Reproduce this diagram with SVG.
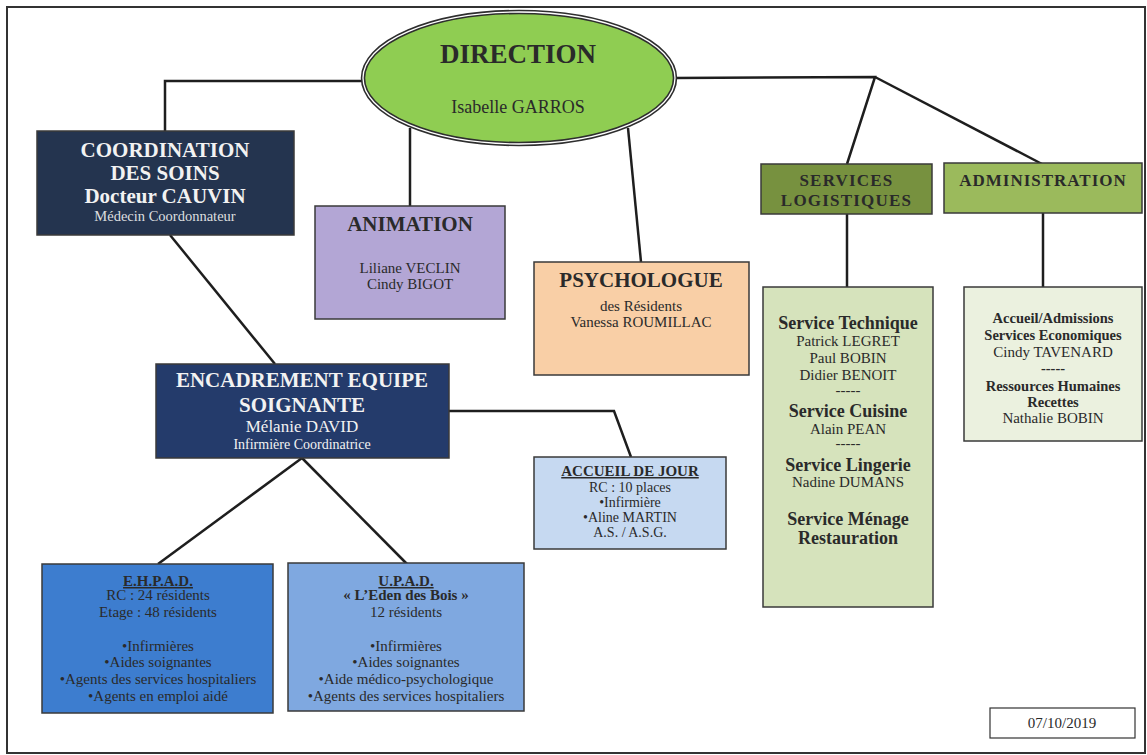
<svg xmlns="http://www.w3.org/2000/svg" width="1147" height="755" viewBox="0 0 1147 755">
<style>
text{font-family:"Liberation Serif","Times New Roman",serif;text-anchor:middle;fill:#2a2a2a}
.b{font-weight:bold}
.w{fill:#f2f2f2}
.box{stroke:#3a3a3a;stroke-width:1.5}
.con line,.con polyline{stroke:#1e1e1e;stroke-width:2.5;fill:none}
.u{text-decoration:underline}
</style>
<rect x="7" y="7" width="1138" height="746" fill="#fff" stroke="#333" stroke-width="2"/>
<g class="con">
<polyline points="364,81 165,81 165,131"/>
<line x1="410" y1="128" x2="410" y2="206"/>
<line x1="628" y1="128" x2="641" y2="262"/>
<polyline points="674,78 875,77 847,164"/>
<line x1="875" y1="77" x2="1042" y2="164"/>
<line x1="847" y1="214" x2="847" y2="287"/>
<line x1="1043" y1="213" x2="1043" y2="287"/>
<line x1="170" y1="235" x2="275" y2="364"/>
<polyline points="449,411 614,411 631,457"/>
<line x1="302" y1="458" x2="158" y2="564"/>
<line x1="302" y1="458" x2="407" y2="564"/>
</g>
<g id="direction">
<ellipse cx="519" cy="78" rx="156" ry="66" fill="#8fcd52" stroke="#2e2e2e" stroke-width="4.5"/>
<ellipse cx="519" cy="78" rx="156" ry="66" fill="none" stroke="#fff" stroke-width="1.3"/>
<text x="518" y="63" class="b" font-size="27">DIRECTION</text>
<text x="518" y="113" font-size="18">Isabelle GARROS</text>
</g>
<g id="coordination">
<rect x="37" y="131" width="257" height="104" fill="#24344f" class="box"/>
<text x="165" y="157" class="b w" font-size="21">COORDINATION</text>
<text x="165" y="180" class="b w" font-size="21">DES SOINS</text>
<text x="165" y="203" class="b w" font-size="21">Docteur CAUVIN</text>
<text x="165" y="221" class="w" font-size="14.5" fill-opacity="0.9">Médecin Coordonnateur</text>
</g>
<g id="animation">
<rect x="315" y="206" width="190" height="113" fill="#b3a6d5" class="box"/>
<text x="410" y="231" class="b" font-size="21">ANIMATION</text>
<text x="410" y="273" font-size="15">Liliane VECLIN</text>
<text x="410" y="289" font-size="15">Cindy BIGOT</text>
</g>
<g id="psychologue">
<rect x="534" y="262" width="215" height="113" fill="#f9cfa6" class="box"/>
<text x="641" y="287" class="b" font-size="21">PSYCHOLOGUE</text>
<text x="641" y="311" font-size="15">des Résidents</text>
<text x="641" y="327" font-size="15">Vanessa ROUMILLAC</text>
</g>
<g id="services">
<rect x="761" y="164" width="171" height="50" fill="#77913f" class="box"/>
<text x="846.5" y="186" class="b" font-size="17" letter-spacing="1.2">SERVICES</text>
<text x="846.5" y="206" class="b" font-size="17" letter-spacing="1.2">LOGISTIQUES</text>
</g>
<g id="administration">
<rect x="944" y="163" width="198" height="50" fill="#9bba5c" class="box"/>
<text x="1043" y="186" class="b" font-size="17" letter-spacing="1">ADMINISTRATION</text>
</g>
<g id="logistique-detail">
<rect x="763" y="287" width="170" height="320" fill="#d6e3bc" class="box"/>
<text x="848" y="329" class="b" font-size="18">Service Technique</text>
<text x="848" y="346" font-size="15">Patrick LEGRET</text>
<text x="848" y="363" font-size="15">Paul BOBIN</text>
<text x="848" y="380" font-size="15">Didier BENOIT</text>
<text x="848" y="395" font-size="15">-----</text>
<text x="848" y="417" class="b" font-size="18">Service Cuisine</text>
<text x="848" y="434" font-size="15">Alain PEAN</text>
<text x="848" y="448" font-size="15">-----</text>
<text x="848" y="471" class="b" font-size="18">Service Lingerie</text>
<text x="848" y="487" font-size="15">Nadine DUMANS</text>
<text x="848" y="525" class="b" font-size="18">Service Ménage</text>
<text x="848" y="544" class="b" font-size="18">Restauration</text>
</g>
<g id="administration-detail">
<rect x="964" y="287" width="178" height="154" fill="#ebf1df" class="box"/>
<text x="1053" y="323" class="b" font-size="14.5">Accueil/Admissions</text>
<text x="1053" y="340" class="b" font-size="14.5">Services Economiques</text>
<text x="1053" y="357" font-size="15">Cindy TAVENARD</text>
<text x="1053" y="373" class="b" font-size="14.5">-----</text>
<text x="1053" y="391" class="b" font-size="14.5">Ressources Humaines</text>
<text x="1053" y="407" class="b" font-size="14.5">Recettes</text>
<text x="1053" y="423" font-size="15">Nathalie BOBIN</text>
</g>
<g id="encadrement">
<rect x="156" y="364" width="293" height="94" fill="#243b6b" class="box"/>
<text x="302" y="387" class="b w" font-size="21">ENCADREMENT EQUIPE</text>
<text x="302" y="412" class="b w" font-size="21">SOIGNANTE</text>
<text x="302" y="432" class="w" font-size="17">Mélanie DAVID</text>
<text x="302" y="449" class="w" font-size="14">Infirmière Coordinatrice</text>
</g>
<g id="accueil-jour">
<rect x="534" y="457" width="192" height="92" fill="#c6d9f1" class="box"/>
<text x="630" y="476" class="b u" font-size="15">ACCUEIL DE JOUR</text>
<text x="630" y="492" font-size="14">RC : 10 places</text>
<text x="630" y="507" font-size="14">•Infirmière</text>
<text x="630" y="522" font-size="14">•Aline MARTIN</text>
<text x="630" y="537" font-size="14">A.S. / A.S.G.</text>
</g>
<g id="ehpad">
<rect x="42" y="564" width="231" height="149" fill="#3d7dcf" class="box"/>
<text x="158" y="586" class="b u" font-size="15">E.H.P.A.D.</text>
<text x="158" y="600" font-size="15">RC : 24 résidents</text>
<text x="158" y="617" font-size="15">Etage : 48 résidents</text>
<text x="158" y="651" font-size="15">•Infirmières</text>
<text x="158" y="667" font-size="15">•Aides soignantes</text>
<text x="158" y="684" font-size="15">•Agents des services hospitaliers</text>
<text x="158" y="701" font-size="15">•Agents en emploi aidé</text>
</g>
<g id="upad">
<rect x="288" y="563" width="236" height="148" fill="#7fa8e0" class="box"/>
<text x="406" y="586" class="b u" font-size="15">U.P.A.D.</text>
<text x="406" y="600" class="b" font-size="15">« L’Eden des Bois »</text>
<text x="406" y="617" font-size="15">12 résidents</text>
<text x="406" y="651" font-size="15">•Infirmières</text>
<text x="406" y="667" font-size="15">•Aides soignantes</text>
<text x="406" y="684" font-size="15">•Aide médico-psychologique</text>
<text x="406" y="701" font-size="15">•Agents des services hospitaliers</text>
</g>
<g id="date">
<rect x="990" y="708" width="145" height="30" fill="#fff" stroke="#333" stroke-width="1.2"/>
<text x="1062" y="728" font-size="15">07/10/2019</text>
</g>
</svg>
